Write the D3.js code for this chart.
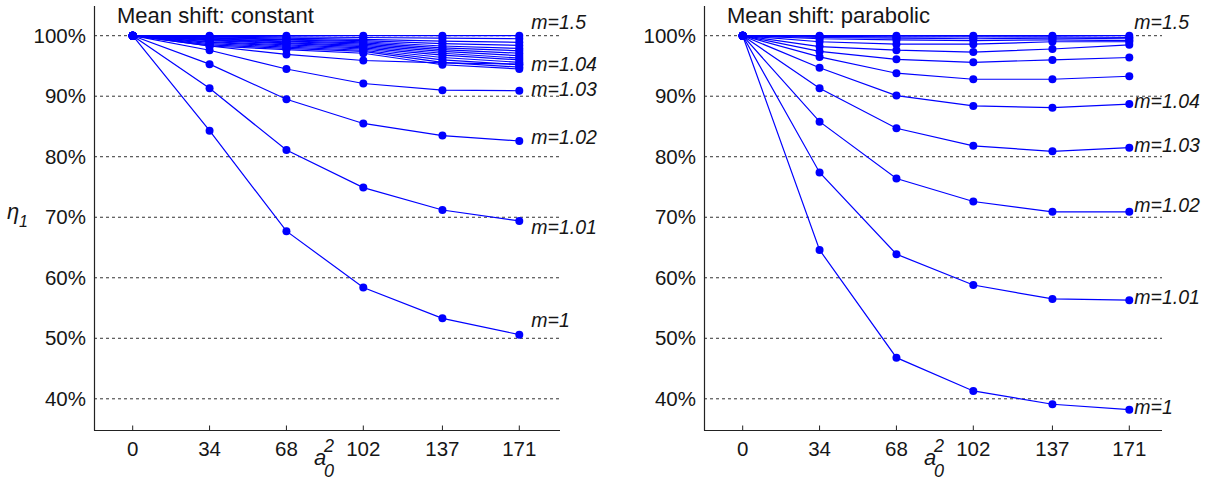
<!DOCTYPE html>
<html>
<head>
<meta charset="utf-8">
<script src="https://cdn.jsdelivr.net/npm/d3@7"></script>
<style>
  body { margin: 0; background: #fff; }
  svg { display: block; }
  text { font-family: Arial, "Liberation Sans", sans-serif; fill: #161616; }
</style>
</head>
<body>
<svg id="chart" width="1232" height="480"></svg>
<script>
// ---------------- data ----------------
const xValues = [0, 34, 68, 102, 137, 171];
const yTicks = [40, 50, 60, 70, 80, 90, 100];

// Mean shift: constant  (eta_1 in %, one row per m curve)
const constantCurves = [
  [100, 100.0, 100.0, 100.0, 100.0, 100.0],
  [100, 99.9, 99.8, 99.7, 99.6, 99.5],
  [100, 99.8, 99.6, 99.4, 99.1, 98.9],
  [100, 99.7, 99.4, 99.2, 98.7, 98.4],
  [100, 99.6, 99.3, 99.0, 98.3, 97.9],
  [100, 99.5, 99.1, 98.8, 98.0, 97.5],
  [100, 99.4, 99.0, 98.6, 97.7, 97.1],
  [100, 99.3, 98.8, 98.4, 97.4, 96.7],
  [100, 99.2, 98.7, 98.2, 97.1, 96.3],
  [100, 99.0, 98.5, 98.0, 96.8, 96.0],
  [100, 98.9, 98.3, 97.8, 96.4, 95.6],
  [100, 98.7, 98.1, 97.6, 96.0, 95.2],
  [100, 98.5, 97.9, 97.4, 95.6, 94.8],
  [100, 98.3, 97.7, 97.1, 95.2, 94.5],
  [100, 98.3, 96.9, 95.9, 95.5, 95.3],   // m=1.04
  [100, 97.6, 94.5, 92.1, 91.0, 90.9],   // m=1.03
  [100, 95.3, 89.5, 85.5, 83.5, 82.6],   // m=1.02
  [100, 91.3, 81.1, 74.9, 71.2, 69.4],   // m=1.01
  [100, 84.3, 67.7, 58.4, 53.3, 50.6]    // m=1
];

// Mean shift: parabolic
const parabolicCurves = [
  [100, 100.0, 100.0, 100.0, 100.0, 100.0],
  [100, 99.9, 99.8, 99.8, 99.8, 99.7],
  [100, 99.7, 99.6, 99.5, 99.6, 99.5],
  [100, 99.5, 99.3, 99.2, 99.3, 99.2],
  [100, 99.0, 98.6, 98.6, 99.0, 99.0],
  [100, 98.2, 97.6, 97.3, 97.8, 98.5],
  [100, 97.4, 96.1, 95.6, 96.0, 96.4],
  [100, 96.5, 93.8, 92.8, 92.8, 93.3],
  [100, 94.7, 90.1, 88.4, 88.1, 88.7],   // m=1.04
  [100, 91.3, 84.7, 81.8, 80.9, 81.5],   // m=1.03
  [100, 85.8, 76.4, 72.6, 70.9, 70.9],   // m=1.02
  [100, 77.4, 63.9, 58.8, 56.5, 56.3],   // m=1.01
  [100, 64.6, 46.8, 41.3, 39.1, 38.2]    // m=1
];

const labelNames = ["1.5", "1.04", "1.03", "1.02", "1.01", "1"];
const constantLabelAt = [102.3, 95.3, 91.2, 83.3, 68.4, 53.0];
const parabolicLabelAt = [102.3, 89.2, 81.9, 72.0, 56.8, 38.6];

const titles = ["Mean shift: constant", "Mean shift: parabolic"];

// ---------------- drawing ----------------
const svg = d3.select("#chart");
const BLUE = "#0000ff";

const y = d3.scaleLinear().domain([40, 100]).range([398.8, 35.7]);
const yTop = 6, yBottom = 430.5;

const panels = [
  { left: 94, right: 560, x0: 132.7, x1: 519.3, curves: constantCurves, labelAt: constantLabelAt, title: titles[0], labelDx: 12 },
  { left: 704, right: 1162, x0: 742.7, x1: 1129.3, curves: parabolicCurves, labelAt: parabolicLabelAt, title: titles[1], labelDx: 5 }
];

panels.forEach((p, pi) => {
  const x = d3.scaleLinear().domain([0, 171]).range([p.x0, p.x1]);
  const g = svg.append("g");

  // gridlines
  g.selectAll("line.grid").data(yTicks).join("line")
    .attr("x1", p.left).attr("x2", p.right)
    .attr("y1", d => y(d)).attr("y2", d => y(d))
    .attr("stroke", "#333").attr("stroke-width", 1)
    .attr("stroke-dasharray", "3,3");

  // axes lines
  g.append("line").attr("x1", p.left + 0.5).attr("x2", p.left + 0.5)
    .attr("y1", yTop).attr("y2", yBottom).attr("stroke", "#222").attr("stroke-width", 1.2);
  g.append("line").attr("x1", p.left).attr("x2", p.right)
    .attr("y1", yBottom).attr("y2", yBottom).attr("stroke", "#222").attr("stroke-width", 1.2);

  // x ticks (upward)
  g.selectAll("line.xt").data(xValues).join("line")
    .attr("x1", d => x(d)).attr("x2", d => x(d))
    .attr("y1", yBottom).attr("y2", yBottom - 5)
    .attr("stroke", "#222").attr("stroke-width", 1);

  g.selectAll("text.xl").data(xValues).join("text")
    .attr("x", d => x(d)).attr("y", 456)
    .attr("text-anchor", "middle").attr("font-size", 20.5)
    .text(d => d);

  // y tick labels
  g.selectAll("text.yl").data(yTicks).join("text")
    .attr("x", p.left - 8).attr("y", d => y(d) + 7)
    .attr("text-anchor", "end").attr("font-size", 20.5)
    .text(d => d + "%");

  // title
  g.append("text").attr("x", p.left + 23).attr("y", 23)
    .attr("font-size", 22).text(p.title);

  // x axis label a_0^2
  const ax = p.left + 220;
  g.append("text").attr("x", ax).attr("y", 465).attr("font-size", 22)
    .attr("font-style", "italic").text("a");
  g.append("text").attr("x", ax + 10).attr("y", 452).attr("font-size", 18)
    .attr("font-style", "italic").text("2");
  g.append("text").attr("x", ax + 10).attr("y", 477).attr("font-size", 18)
    .attr("font-style", "italic").text("0");

  // curves
  const line = d3.line().x((d, i) => x(xValues[i])).y(d => y(d));
  g.selectAll("path.curve").data(p.curves).join("path")
    .attr("d", d => line(d))
    .attr("fill", "none").attr("stroke", BLUE).attr("stroke-width", 1.2);

  p.curves.forEach(c => {
    g.selectAll(null).data(c).join("circle")
      .attr("cx", (d, i) => x(xValues[i])).attr("cy", d => y(d))
      .attr("r", 4).attr("fill", BLUE);
  });

  // m labels
  g.selectAll("text.ml").data(labelNames).join("text")
    .attr("x", p.x1 + p.labelDx)
    .attr("y", (d, i) => y(p.labelAt[i]) + 7)
    .attr("font-size", 19.5).attr("font-style", "italic")
    .text(d => "m=" + d);
});

// y axis label eta_1
svg.append("text").attr("x", 7).attr("y", 219).attr("font-size", 22)
  .attr("font-style", "italic").attr("font-family", "'DejaVu Serif', serif").text("η");
svg.append("text").attr("x", 19).attr("y", 227).attr("font-size", 16)
  .attr("font-style", "italic").text("1");
</script>
</body>
</html>
